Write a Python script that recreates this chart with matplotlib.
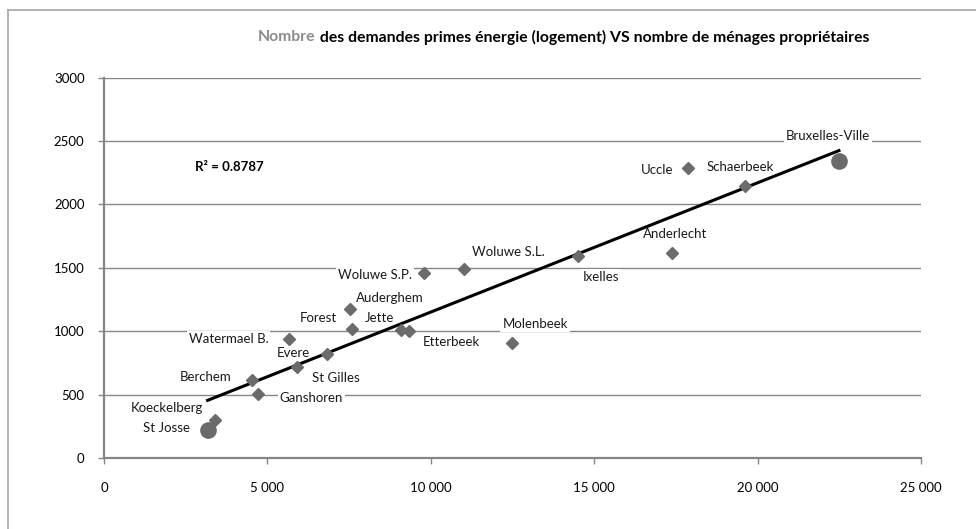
import matplotlib
matplotlib.use("Agg")
import matplotlib.pyplot as plt
import numpy as np
from matplotlib.ticker import FuncFormatter
from matplotlib.lines import Line2D

plt.rcParams['font.family'] = ['Lato', 'DejaVu Sans']

# ---- data ----
communes = ["St Josse", "Koeckelberg", "Berchem", "Ganshoren", "Watermael B.",
            "St Gilles", "Evere", "Auderghem", "Forest", "Jette", "Etterbeek",
            "Woluwe S.P.", "Woluwe S.L.", "Molenbeek", "Ixelles", "Anderlecht",
            "Uccle", "Schaerbeek", "Bruxelles-Ville"]
menages_proprietaires = [3170, 3400, 4520, 4720, 5650,
                         5915, 6815, 7530, 7600, 9080, 9340,
                         9790, 11025, 12490, 14510, 17370,
                         17860, 19610, 22490]
demandes_primes = [220, 300, 615, 505, 940,
                   715, 818, 1173, 1015, 1010, 1004,
                   1462, 1491, 910, 1593, 1620,
                   2285, 2148, 2343]
big_points = ["St Josse", "Bruxelles-Ville"]
r_squared = "0.8787"
x_ticks = [0, 5000, 10000, 15000, 20000, 25000]
y_ticks = [0, 500, 1000, 1500, 2000, 2500, 3000]
title_grey = "Nombre"
title_rest = " des demandes primes énergie (logement) VS nombre de ménages propriétaires"

# label offsets (pixels) relative to the point
label_offsets = {
    "St Josse": (-41, 2), "Koeckelberg": (-48, 12), "Berchem": (-46, 3),
    "Ganshoren": (53, -4), "Watermael B.": (-60, 0), "St Gilles": (39, -11),
    "Evere": (-33, 1), "Auderghem": (40, 11), "Forest": (-34, 11),
    "Jette": (-21, 12), "Etterbeek": (42, -11), "Woluwe S.P.": (-49, -2),
    "Woluwe S.L.": (44, 17), "Molenbeek": (23, 19), "Ixelles": (23, -21),
    "Anderlecht": (3, 19), "Uccle": (-31, -2), "Schaerbeek": (-5, 19),
    "Bruxelles-Ville": (-11, 25),
}

W, H = 976, 529
fig = plt.figure(figsize=(W / 100, H / 100), dpi=100)
fig.patch.set_facecolor("white")

# chart border (only top and left visible)
fig.add_artist(Line2D([8 / W, 1.0], [1 - 9.5 / H, 1 - 9.5 / H], color="#a6a6a6", lw=1.2))
fig.add_artist(Line2D([8 / W, 8 / W], [0, 1 - 9.5 / H], color="#a6a6a6", lw=1.2))

ax_left, ax_right, ax_top, ax_bottom = 104, 921, 77.7, 458
ax = fig.add_axes([ax_left / W, 1 - ax_bottom / H, (ax_right - ax_left) / W, (ax_bottom - ax_top) / H])

grey = "#868686"
ax.set_xlim(0, 25000)
ax.set_ylim(0, 3000)
ax.set_xticks(x_ticks)
ax.set_yticks(y_ticks)
ax.xaxis.set_major_formatter(FuncFormatter(lambda v, p: "0" if v == 0 else f"{int(v):,}".replace(",", " ")))
ax.grid(axis="y", color=grey, lw=1.0, zorder=0.5)
ax.set_axisbelow(True)
for s in ["top", "right"]:
    ax.spines[s].set_visible(False)
for s in ["left", "bottom"]:
    ax.spines[s].set_color(grey)
    ax.spines[s].set_linewidth(1.6)
    ax.spines[s].set_zorder(2.5)
ax.tick_params(axis="both", direction="out", length=4, width=1, color=grey,
               labelsize=9.5, labelcolor="black")
ax.tick_params(axis="y", pad=10)
ax.tick_params(axis="x", pad=13)

x = np.array(menages_proprietaires, dtype=float)
y = np.array(demandes_primes, dtype=float)
is_big = np.array([c in big_points for c in communes])

marker_col = "#6b6b6b"
ax.plot(x[~is_big], y[~is_big], linestyle="none", marker="D", markersize=6.5,
        color=marker_col, zorder=3)
ax.plot(x[is_big], y[is_big], linestyle="none", marker="o", markersize=11,
        color=marker_col, zorder=3)

# linear trendline
slope, intercept = np.polyfit(x, y, 1)
xs = np.array([x.min(), x.max()])
ax.plot(xs, slope * xs + intercept, color="black", lw=2.2, zorder=2)

for name, xi, yi in zip(communes, x, y):
    dx, dy = label_offsets[name]
    ax.annotate(name, (xi, yi), xytext=(dx, dy), textcoords="offset pixels",
                ha="center", va="center", fontsize=9.5, color="#1a1a1a",
                bbox=dict(boxstyle="square,pad=0.15", fc="white", ec="none"),
                zorder=1.5)

ax.text((195 - ax_left) / (ax_right - ax_left), (ax_bottom - 167) / (ax_bottom - ax_top),
        f"R² = {r_squared}", transform=ax.transAxes, ha="left", va="center",
        fontsize=9.5, fontweight="bold")

# title: "Nombre" in grey, rest in black
t1 = fig.text(258 / W, 1 - 37 / H, title_grey, color="#8c8c8c", fontsize=11.3,
              fontweight="bold", ha="left", va="center")
ax.annotate(title_rest, xy=(1, 0.5), xycoords=t1, ha="left", va="center",
            fontsize=11.3, fontweight="bold", color="black", annotation_clip=False)

fig.savefig("out.png", dpi=100)
